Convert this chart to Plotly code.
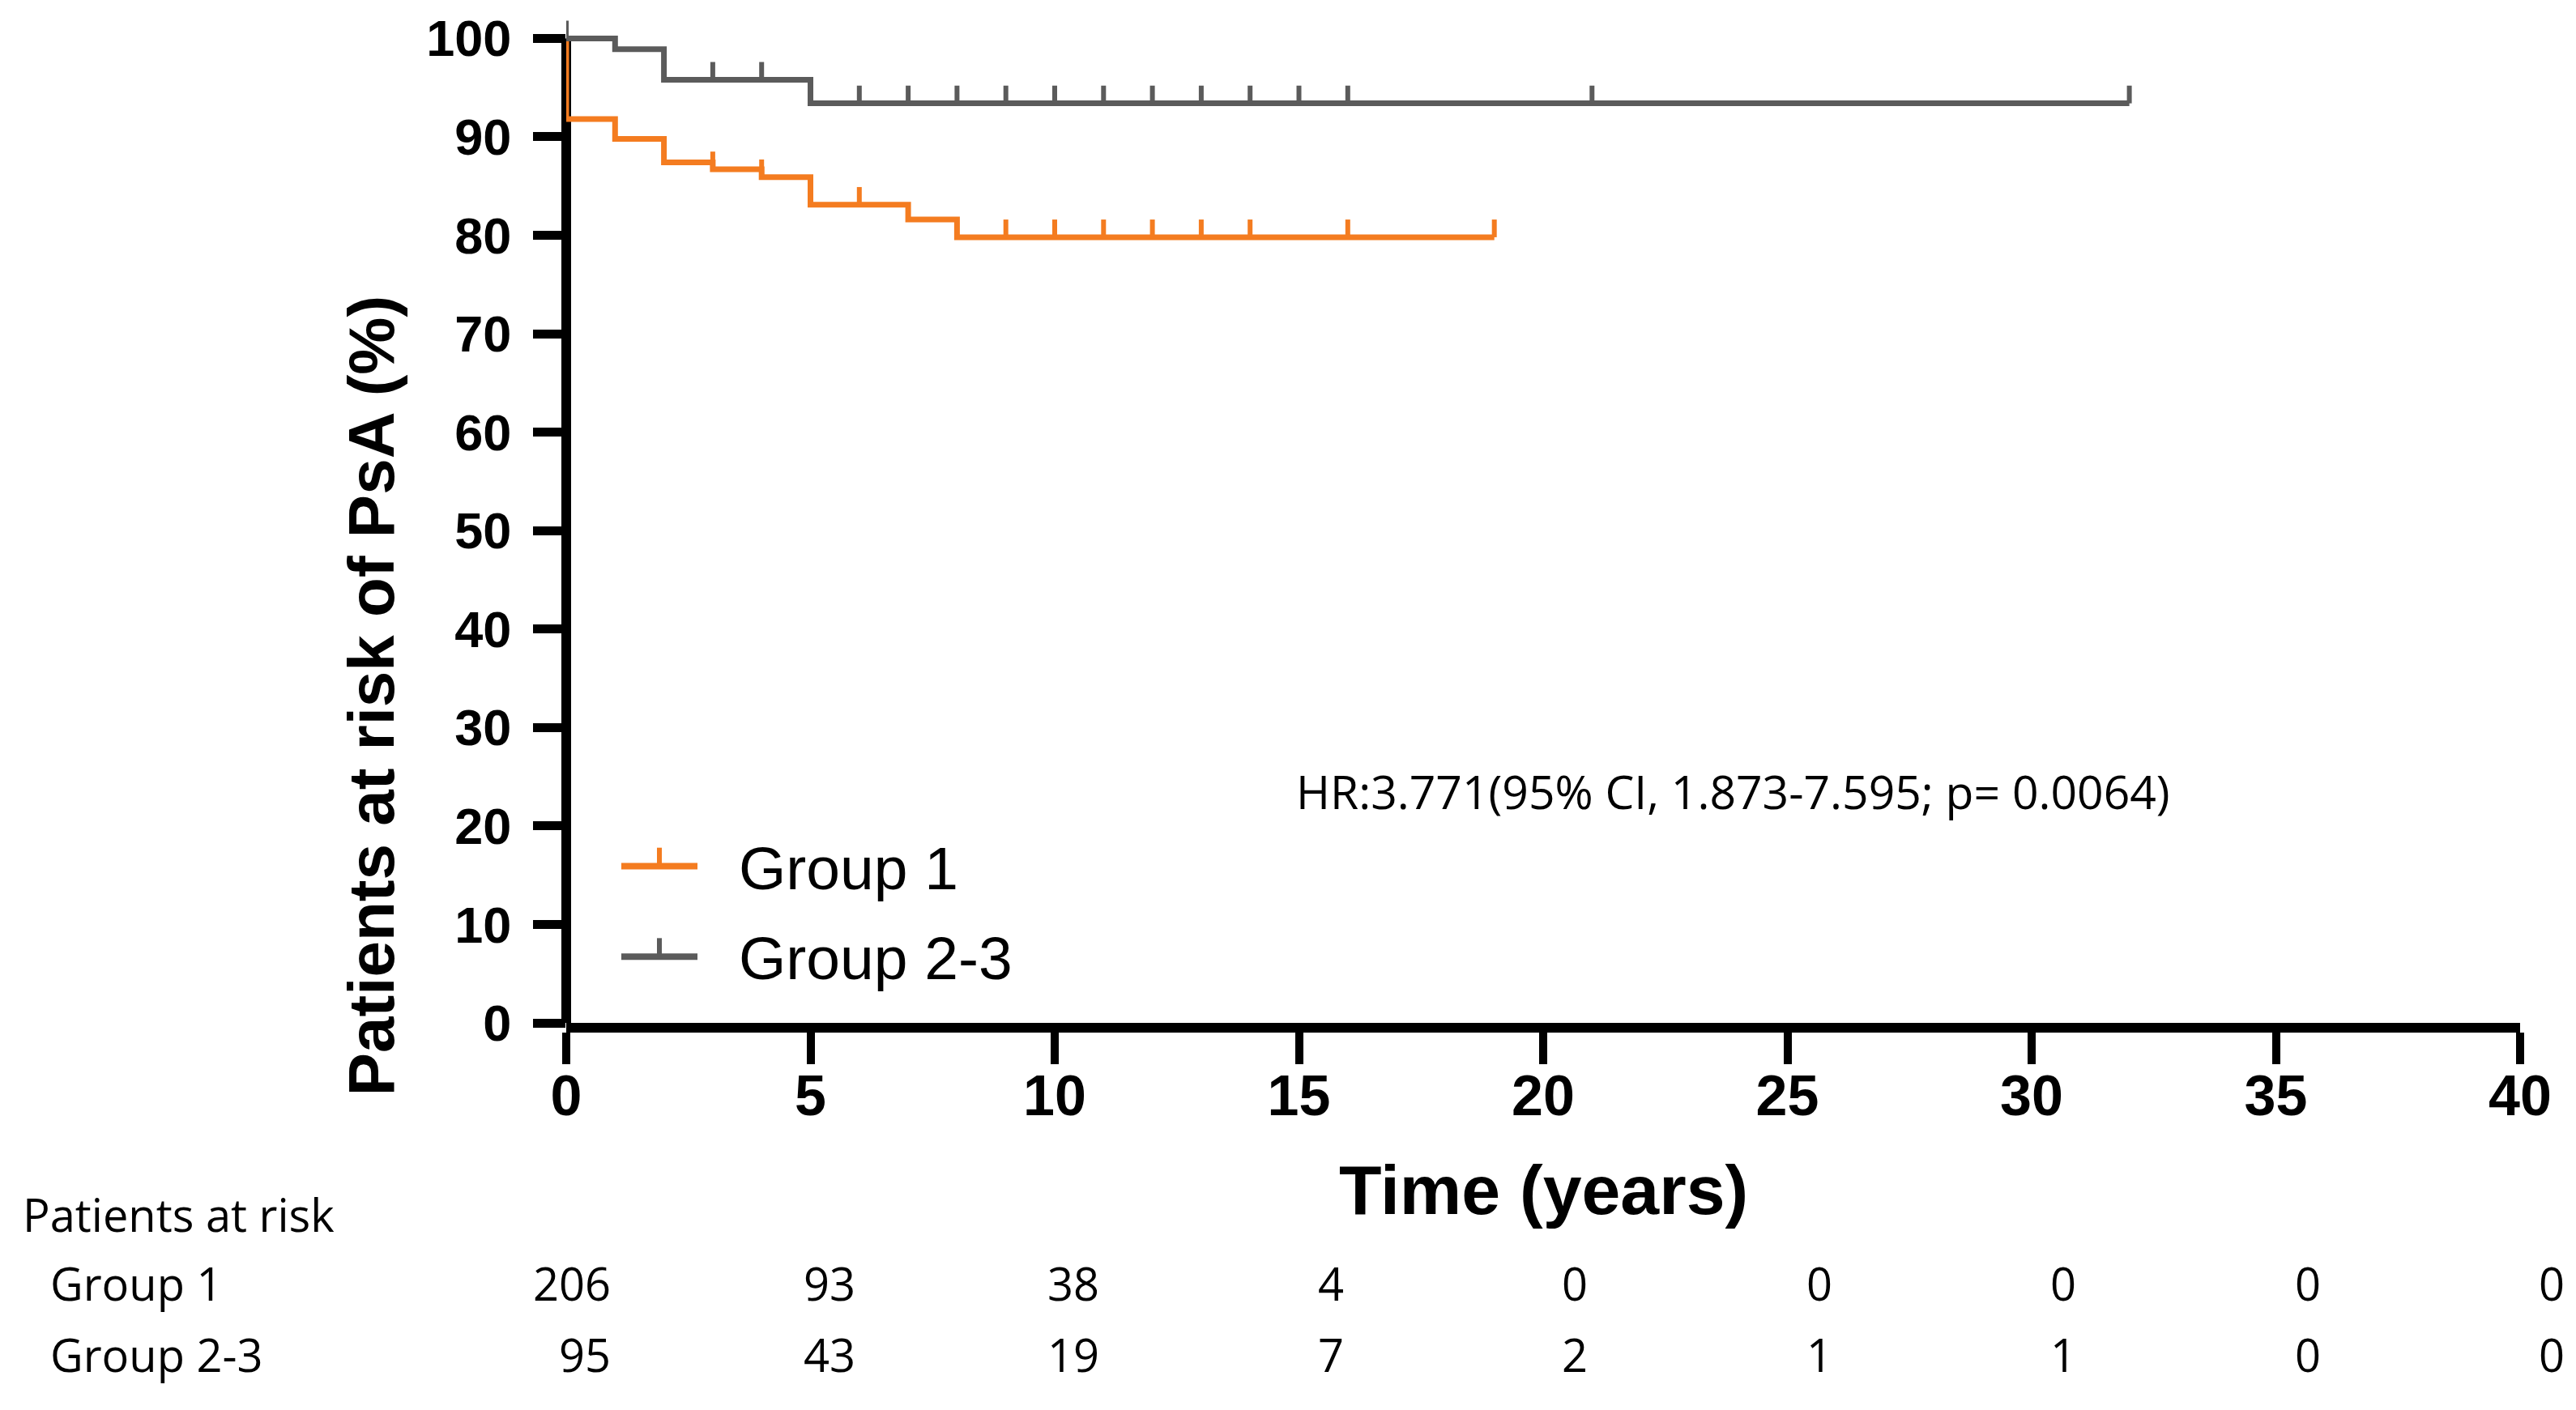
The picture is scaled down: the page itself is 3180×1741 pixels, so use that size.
import plotly.graph_objects as go

# ---------------- data ----------------
g1_times = [0, 0, 1, 2, 3, 4, 5, 7, 8, 19]
g1_surv = [100, 91.8, 89.8, 87.4, 86.7, 85.9, 83.1, 81.6, 79.8, 79.8]
g1_censor = [3, 4, 6, 9, 10, 11, 12, 13, 14, 16, 19]

g23_times = [0, 1, 2, 5, 32]
g23_surv = [100, 98.9, 95.8, 93.4, 93.4]
g23_censor = [0, 3, 4, 6, 7, 8, 9, 10, 11, 12, 13, 14, 15, 16, 21, 32]

risk_times = [0, 5, 10, 15, 20, 25, 30, 35, 40]
risk_g1 = [206, 93, 38, 4, 0, 0, 0, 0, 0]
risk_g23 = [95, 43, 19, 7, 2, 1, 1, 0, 0]

x_ticks = [0, 5, 10, 15, 20, 25, 30, 35, 40]
y_ticks = [0, 10, 20, 30, 40, 50, 60, 70, 80, 90, 100]

group_names = ["Group 1", "Group 2-3"]
x_title = "Time (years)"
y_title = "Patients at risk of PsA (%)"
table_title = "Patients at risk"
hr_text = "HR:3.771(95% CI, 1.873-7.595; p= 0.0064)"

# ---------------- style ----------------
ORANGE = "#F47C20"
GRAY = "#5B5B5B"
W, H = 3180, 1741
L, R, T, B = 691, 3103, 5, 1255
YMAX = 102.5
TICK_H = 1.8  # censor tick height in data units

BOLD = "Liberation Sans"
REG = "Open Sans"


def px_x(px):
    return (px - L) / (R - L)


def px_y(py):
    return (B - py) / (B - T)


def level(times, surv, t):
    v = surv[0]
    for ti, si in zip(times, surv):
        if ti <= t:
            v = si
    return v


def censor_segments(times, surv, cens):
    xs, ys = [], []
    for c in cens:
        s = level(times, surv, c)
        xs += [c, c, None]
        ys += [s, s + TICK_H, None]
    return xs, ys


fig = go.Figure()

for times, surv, cens, col, name in [
    (g1_times, g1_surv, g1_censor, ORANGE, group_names[0]),
    (g23_times, g23_surv, g23_censor, GRAY, group_names[1]),
]:
    fig.add_trace(go.Scatter(x=times, y=surv, mode="lines", line=dict(color=col, width=7, shape="hv"),
                             name=name, showlegend=False, hoverinfo="skip"))
    cx, cy = censor_segments(times, surv, cens)
    fig.add_trace(go.Scatter(x=cx, y=cy, mode="lines", line=dict(color=col, width=6),
                             showlegend=False, hoverinfo="skip"))

shapes = []
# y axis line from 0 to 100
shapes.append(dict(type="line", xref="paper", yref="y", x0=0, x1=0, y0=0, y1=100,
                   line=dict(color="black", width=12), layer="below"))

annotations = []
# manual legend
legend_rows = [(group_names[0], ORANGE, 1061), (group_names[1], GRAY, 1173)]
for name, col, py in legend_rows:
    shapes.append(dict(type="line", xref="paper", yref="paper", x0=px_x(759), x1=px_x(853),
                       y0=px_y(py), y1=px_y(py), line=dict(color=col, width=8)))
    shapes.append(dict(type="line", xref="paper", yref="paper", x0=px_x(806), x1=px_x(806),
                       y0=px_y(py), y1=px_y(py - 23), line=dict(color=col, width=6)))
    annotations.append(dict(xref="paper", yref="paper", x=px_x(902), y=px_y(py + 2), text=name,
                            showarrow=False, xanchor="left", yanchor="middle",
                            font=dict(family=BOLD, size=75, color="black")))

# axis titles
annotations.append(dict(xref="paper", yref="paper", x=px_x(1897), y=px_y(1462), text=x_title,
                        showarrow=False, xanchor="center", yanchor="middle",
                        font=dict(family=BOLD, size=86, color="black", weight="bold")))
annotations.append(dict(xref="paper", yref="paper", x=px_x(450), y=px_y(850), text=y_title,
                        showarrow=False, xanchor="center", yanchor="middle", textangle=-90,
                        font=dict(family=BOLD, size=80, color="black", weight="bold")))

# HR text
annotations.append(dict(xref="paper", yref="paper", x=px_x(2131), y=px_y(968), text=hr_text,
                        showarrow=False, xanchor="center", yanchor="middle",
                        font=dict(family=REG, size=57, color="black")))

# patients at risk table
annotations.append(dict(xref="paper", yref="paper", x=px_x(18), y=px_y(1492), text=table_title,
                        showarrow=False, xanchor="left", yanchor="middle",
                        font=dict(family=REG, size=56, color="black")))
for name, vals, py in [(group_names[0], risk_g1, 1577), (group_names[1], risk_g23, 1665)]:
    annotations.append(dict(xref="paper", yref="paper", x=px_x(52), y=px_y(py), text=name,
                            showarrow=False, xanchor="left", yanchor="middle",
                            font=dict(family=REG, size=56, color="black")))
    for t, v in zip(risk_times, vals):
        annotations.append(dict(xref="x", yref="paper", x=t, y=px_y(py), text=str(v),
                                showarrow=False, xanchor="right", yanchor="middle", xshift=57,
                                font=dict(family=REG, size=56, color="black")))

fig.update_layout(
    width=W, height=H,
    margin=dict(l=L, r=W - R, t=T, b=H - B, pad=0),
    plot_bgcolor="white", paper_bgcolor="white",
    showlegend=False,
    shapes=shapes, annotations=annotations,
    xaxis=dict(range=[0, 40], tickvals=x_ticks, ticks="outside", ticklen=39, tickwidth=10,
               tickcolor="black", showline=True, linewidth=12, linecolor="black",
               showgrid=False, zeroline=False, ticklabelstandoff=-21,
               tickfont=dict(family=BOLD, size=70, color="black", weight="bold")),
    yaxis=dict(range=[0, YMAX], tickvals=y_ticks, ticks="outside", ticklen=40, tickwidth=11,
               tickcolor="black", showline=False, showgrid=False, zeroline=False,
               ticklabelstandoff=14,
               tickfont=dict(family=BOLD, size=63, color="black", weight="bold")),
)

fig.write_html("out.html")
